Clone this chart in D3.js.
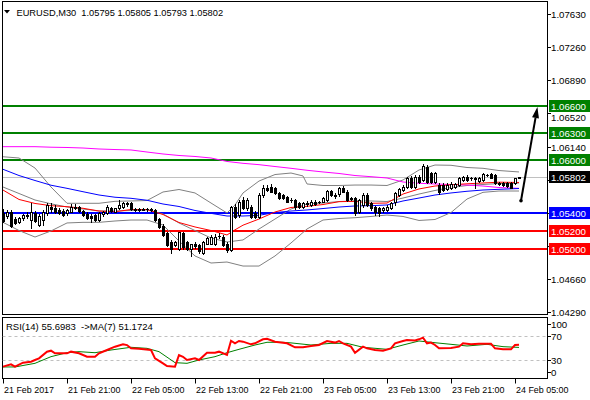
<!DOCTYPE html>
<html><head><meta charset="utf-8">
<script src="https://cdn.jsdelivr.net/npm/d3@7"></script>
<style>
body{margin:0;background:#fff;}
svg{display:block;}
text{font-family:"Liberation Sans",Arial,sans-serif;white-space:pre;}
</style>
</head><body>
<svg id="c" width="590" height="400"></svg>
<script>
// ---------------- DATA ----------------
const symbol = "EURUSD,M30";
const lastOHLC = [1.05795, 1.05805, 1.05793, 1.05802];
const lastPrice = 1.05802;

// candles: [open, high, low, close], one per 30-minute bar from 21 Feb 13:00
const candles = [
[1.05394,1.05443,1.05293,1.05308],[1.05368,1.05428,1.05345,1.05405],[1.05413,1.05428,1.05244,1.05255],[1.05330,1.05353,1.05278,1.05285],
[1.05293,1.05356,1.05281,1.05338],[1.05338,1.05390,1.05323,1.05375],[1.05368,1.05405,1.05338,1.05375],[1.05319,1.05506,1.05233,1.05405],
[1.05394,1.05420,1.05293,1.05308],[1.05263,1.05383,1.05255,1.05368],[1.05319,1.05431,1.05263,1.05413],[1.05394,1.05506,1.05375,1.05488],
[1.05469,1.05506,1.05405,1.05443],[1.05458,1.05488,1.05394,1.05405],[1.05431,1.05458,1.05383,1.05394],[1.05420,1.05443,1.05360,1.05375],
[1.05394,1.05443,1.05375,1.05428],[1.05413,1.05495,1.05405,1.05469],[1.05458,1.05495,1.05443,1.05469],[1.05465,1.05480,1.05413,1.05420],
[1.05420,1.05431,1.05368,1.05375],[1.05383,1.05405,1.05330,1.05338],[1.05360,1.05383,1.05293,1.05345],[1.05375,1.05390,1.05308,1.05319],
[1.05319,1.05405,1.05308,1.05394],[1.05390,1.05420,1.05368,1.05405],[1.05401,1.05488,1.05390,1.05469],[1.05450,1.05469,1.05405,1.05420],
[1.05413,1.05458,1.05405,1.05450],[1.05450,1.05544,1.05443,1.05488],[1.05469,1.05525,1.05458,1.05510],[1.05506,1.05525,1.05480,1.05503],
[1.05506,1.05525,1.05435,1.05443],[1.05443,1.05458,1.05420,1.05435],[1.05435,1.05458,1.05420,1.05443],[1.05443,1.05458,1.05428,1.05435],
[1.05439,1.05458,1.05420,1.05443],[1.05443,1.05458,1.05420,1.05428],[1.05431,1.05443,1.05308,1.05319],[1.05330,1.05345,1.05233,1.05244],
[1.05255,1.05270,1.05143,1.05150],[1.05169,1.05180,1.05030,1.05038],[1.05075,1.05090,1.04955,1.05000],[1.05038,1.05083,1.05023,1.05068],
[1.05000,1.05188,1.04981,1.05180],[1.05173,1.05188,1.05000,1.05019],[1.05068,1.05083,1.04981,1.05000],[1.05000,1.05056,1.04918,1.05045],
[1.05045,1.05068,1.05008,1.05030],[1.05038,1.05056,1.04944,1.04970],[1.04944,1.05083,1.04933,1.05068],[1.05056,1.05131,1.05045,1.05120],
[1.05056,1.05150,1.05045,1.05131],[1.05056,1.05158,1.05038,1.05131],[1.05143,1.05169,1.05120,1.05135],[1.05131,1.05150,1.05030,1.05038],
[1.05056,1.05075,1.04963,1.04981],[1.04981,1.05480,1.04970,1.05469],[1.05469,1.05495,1.05345,1.05356],[1.05375,1.05544,1.05356,1.05525],
[1.05544,1.05581,1.05443,1.05458],[1.05450,1.05570,1.05431,1.05544],[1.05469,1.05488,1.05345,1.05356],[1.05394,1.05420,1.05338,1.05356],
[1.05356,1.05619,1.05338,1.05600],[1.05600,1.05713,1.05581,1.05683],[1.05683,1.05713,1.05645,1.05656],[1.05694,1.05720,1.05630,1.05638],
[1.05675,1.05694,1.05608,1.05619],[1.05619,1.05638,1.05555,1.05563],[1.05600,1.05615,1.05555,1.05563],[1.05581,1.05593,1.05518,1.05525],
[1.05540,1.05563,1.05525,1.05544],[1.05544,1.05555,1.05443,1.05469],[1.05506,1.05525,1.05458,1.05469],[1.05469,1.05525,1.05458,1.05506],
[1.05506,1.05533,1.05480,1.05495],[1.05488,1.05544,1.05480,1.05525],[1.05525,1.05540,1.05488,1.05503],[1.05518,1.05533,1.05510,1.05525],
[1.05525,1.05581,1.05518,1.05570],[1.05544,1.05656,1.05533,1.05645],[1.05645,1.05656,1.05593,1.05600],[1.05600,1.05619,1.05570,1.05593],
[1.05608,1.05694,1.05593,1.05683],[1.05683,1.05705,1.05630,1.05638],[1.05638,1.05656,1.05533,1.05544],[1.05563,1.05581,1.05544,1.05560],
[1.05563,1.05581,1.05375,1.05394],[1.05413,1.05555,1.05394,1.05544],[1.05488,1.05619,1.05469,1.05600],[1.05600,1.05619,1.05480,1.05488],
[1.05506,1.05525,1.05431,1.05450],[1.05469,1.05480,1.05375,1.05413],[1.05450,1.05469,1.05368,1.05394],[1.05431,1.05469,1.05405,1.05450],
[1.05431,1.05488,1.05420,1.05469],[1.05458,1.05525,1.05443,1.05506],[1.05525,1.05630,1.05488,1.05619],[1.05600,1.05683,1.05585,1.05668],
[1.05656,1.05713,1.05645,1.05694],[1.05694,1.05806,1.05675,1.05788],[1.05788,1.05818,1.05683,1.05694],[1.05694,1.05825,1.05683,1.05806],
[1.05806,1.05825,1.05731,1.05750],[1.05769,1.05945,1.05758,1.05930],[1.05919,1.05938,1.05731,1.05750],[1.05844,1.05863,1.05731,1.05750],
[1.05750,1.05863,1.05731,1.05844],[1.05713,1.05731,1.05608,1.05630],[1.05713,1.05731,1.05645,1.05656],[1.05668,1.05731,1.05656,1.05713],
[1.05675,1.05750,1.05668,1.05720],[1.05694,1.05731,1.05683,1.05720],[1.05713,1.05806,1.05705,1.05795],[1.05769,1.05818,1.05758,1.05806],
[1.05806,1.05825,1.05758,1.05769],[1.05788,1.05806,1.05769,1.05795],[1.05788,1.05803,1.05675,1.05780],[1.05758,1.05806,1.05750,1.05795],
[1.05769,1.05844,1.05758,1.05833],[1.05825,1.05840,1.05810,1.05822],[1.05833,1.05844,1.05788,1.05795],[1.05825,1.05833,1.05720,1.05731],
[1.05731,1.05750,1.05713,1.05728],[1.05731,1.05743,1.05705,1.05713],[1.05731,1.05743,1.05694,1.05705],[1.05731,1.05743,1.05675,1.05683],
[1.05731,1.05795,1.05720,1.05788],[1.05795,1.05805,1.05793,1.05802]
];

// indicator lines sampled at bar indices: [barIndex, price]
const maSlow = [[0,1.06144],[4,1.06144],[8,1.06144],[12,1.06138],[16,1.06135],[20,1.06129],[24,1.06118],[28,1.06112],[32,1.06107],[36,1.06084],[40,1.06062],[44,1.06045],[48,1.06034],[52,1.06017],[56,1.05978],[60,1.05957],[64,1.05942],[68,1.05921],[72,1.05901],[76,1.05879],[80,1.05860],[84,1.05843],[88,1.05820],[92,1.05807],[96,1.05792],[100,1.05747],[104,1.05733],[108,1.05725],[112,1.05719],[116,1.05713],[120,1.05702],[124,1.05685],[129,1.05676]];
const maMid = [[0,1.05890],[4,1.05820],[8,1.05764],[12,1.05711],[16,1.05676],[20,1.05638],[24,1.05601],[28,1.05576],[32,1.05564],[36,1.05542],[40,1.05500],[44,1.05472],[48,1.05427],[52,1.05395],[56,1.05365],[60,1.05365],[64,1.05373],[68,1.05404],[72,1.05421],[76,1.05433],[80,1.05449],[84,1.05466],[88,1.05478],[92,1.05481],[96,1.05489],[100,1.05534],[104,1.05567],[108,1.05601],[112,1.05624],[116,1.05643],[120,1.05657],[124,1.05665],[129,1.05674]];
const maFast = [[0,1.05657],[4,1.05551],[8,1.05506],[12,1.05481],[16,1.05470],[20,1.05452],[24,1.05421],[28,1.05413],[32,1.05438],[36,1.05438],[40,1.05382],[44,1.05292],[48,1.05242],[52,1.05202],[56,1.05152],[58,1.05210],[60,1.05262],[64,1.05331],[68,1.05410],[72,1.05461],[76,1.05474],[80,1.05494],[84,1.05526],[88,1.05530],[92,1.05508],[96,1.05511],[100,1.05612],[104,1.05669],[108,1.05702],[112,1.05716],[116,1.05727],[120,1.05736],[124,1.05745],[129,1.05742]];
const bbUpper = [[0,1.06031],[4,1.06017],[8,1.05904],[12,1.05691],[16,1.05508],[20,1.05508],[24,1.05508],[28,1.05530],[32,1.05534],[36,1.05539],[40,1.05635],[44,1.05663],[48,1.05624],[52,1.05511],[56,1.05399],[58,1.05489],[60,1.05624],[64,1.05758],[68,1.05831],[72,1.05848],[75,1.05815],[76,1.05725],[80,1.05708],[84,1.05708],[88,1.05713],[92,1.05713],[96,1.05708],[100,1.05770],[104,1.05882],[108,1.05938],[112,1.05935],[116,1.05910],[120,1.05901],[124,1.05876],[129,1.05860]];
const bbMiddle = [[0,1.05691],[4,1.05618],[8,1.05545],[12,1.05502],[16,1.05466],[20,1.05444],[24,1.05421],[28,1.05421],[32,1.05427],[36,1.05433],[40,1.05388],[44,1.05287],[48,1.05202],[52,1.05118],[56,1.05073],[60,1.05096],[64,1.05219],[68,1.05331],[72,1.05444],[76,1.05500],[80,1.05511],[84,1.05528],[88,1.05534],[92,1.05534],[96,1.05528],[100,1.05567],[104,1.05612],[108,1.05652],[112,1.05685],[116,1.05708],[120,1.05719],[124,1.05730],[129,1.05736]];
const bbLower = [[0,1.05294],[4,1.05202],[8,1.05129],[12,1.05197],[16,1.05287],[20,1.05294],[24,1.05294],[28,1.05309],[32,1.05320],[36,1.05320],[40,1.05264],[44,1.05084],[48,1.04916],[52,1.04837],[56,1.04848],[60,1.04803],[64,1.04803],[68,1.04916],[72,1.05062],[76,1.05219],[80,1.05320],[84,1.05337],[88,1.05346],[92,1.05360],[96,1.05376],[100,1.05360],[104,1.05315],[108,1.05326],[112,1.05404],[116,1.05556],[120,1.05631],[124,1.05646],[129,1.05646]];

// horizontal levels
const resistanceLevels = [1.06600, 1.06300, 1.06000];
const pivotLevels = [1.05400];
const supportLevels = [1.05200, 1.05000];

// forecast arrow: [barIndex, price] start and end
const arrowStart = [129.5, 1.05537];
const arrowEnd = [133.6, 1.06590];

// price axis ticks
const priceTicks = [1.07630, 1.07260, 1.06890, 1.06520, 1.06140, 1.05770, 1.05400, 1.05030, 1.04660, 1.04290];

// RSI(14) and its MA(7): [barIndex, value]
const rsiValues = [[0,20],[2,23.8],[3,20],[5,26.5],[7,28],[8,30.8],[9,33.5],[11,44.3],[12,45.9],[13,41.6],[16,41.6],[17,44.3],[19,41.6],[21,36.2],[23,36.2],[24,41.6],[26,47],[28,52.4],[30,56.2],[31,55],[32,49.7],[34,49],[37,47],[38,33.5],[40,25.4],[41,21],[43,20],[44,38.9],[45,36],[46,30.8],[48,33.5],[49,30.8],[51,42.6],[53,42.6],[54,44.3],[56,38.9],[57,62],[58,57.8],[59,61.6],[60,60.5],[62,56.2],[63,57.8],[65,64.3],[66,65.3],[68,60.5],[71,57.8],[73,51.4],[75,51.4],[77,53.5],[79,55.1],[81,61.6],[83,59],[84,61.6],[85,57.8],[87,52.4],[88,42.6],[90,52.4],[91,49.7],[93,47],[95,45.9],[97,49.7],[98,57.8],[100,61.6],[101,63.2],[103,62.6],[104,64.3],[105,67],[106,57.8],[107,59],[108,55.1],[109,49.7],[112,50.3],[114,52.4],[115,57.8],[117,56.2],[119,57],[121,57],[122,57],[123,49.7],[125,48.1],[127,48.1],[128,55.1],[129,55.7]];
const rsiMA = [[0,19.5],[3,19.5],[8,25.4],[12,36.2],[16,42.6],[19,44.3],[23,42.6],[27,47],[32,51.4],[36,49.7],[39,44.3],[43,26.5],[46,25.4],[49,30.8],[53,36.2],[56,42.6],[59,48.1],[63,55.1],[66,59.5],[70,59.5],[72,58.5],[77,55.1],[82,57.8],[86,57.8],[90,51.4],[96,48.1],[100,55.1],[104,61.6],[108,58.8],[112,56.2],[116,53.5],[121,56.2],[125,52.4],[129,51.2]];
const rsiLabel = "RSI(14) 55.6983  ->MA(7) 51.1724";
const rsiTicks = [100, 70, 30, 0];
const rsiLevels = [70, 30];

// time axis
const timeTickIdx = [0, 16, 32, 48, 64, 80, 96, 112, 128];
const timeLabels = ["21 Feb 2017","21 Feb 21:00","22 Feb 05:00","22 Feb 13:00","22 Feb 21:00","23 Feb 05:00","23 Feb 13:00","23 Feb 21:00","24 Feb 05:00"];

// ---------------- DRAW ----------------
const svg = d3.select("#c");
const L = 2.5, R = 547.5;
const mainTop = 1.5, mainBot = 314.5;
const rsiTop = 317.5, rsiBot = 378.5;

// font size fitted so that a sample string has the width seen in the reference
function fitSize(sample, width) {
  const t = svg.append("text").attr("font-size", 10).text(sample);
  const w = t.node().getComputedTextLength();
  t.remove();
  return w > 0 ? 10 * width / w : 10;
}
const FS_AXIS = fitSize("1.07630", 35);
const FS_TIME = fitSize("22 Feb 05:00", 52.6);

const x = d3.scaleLinear().domain([0, 129]).range([3, 519]);
const y = d3.scaleLinear().domain([1.05, 1.06]).range([248.5, 159.5]);
const yr = d3.scaleLinear().domain([0, 100]).range([379, 317.3]);

const cx = i => Math.round(x(i)) + 0.5;
const ry = p => Math.round(y(p));

svg.insert("rect", ":first-child").attr("width",590).attr("height",400).attr("fill","#fff");

svg.append("clipPath").attr("id","mclip").append("rect")
  .attr("x",L).attr("y",mainTop).attr("width",R-L).attr("height",mainBot-mainTop);
svg.append("clipPath").attr("id","rclip").append("rect")
  .attr("x",L).attr("y",rsiTop).attr("width",R-L).attr("height",rsiBot-rsiTop);

const main = svg.append("g").attr("clip-path","url(#mclip)");

// last price line
main.append("line").attr("x1",L).attr("x2",R)
  .attr("y1",ry(lastPrice)+0.5).attr("y2",ry(lastPrice)+0.5)
  .attr("stroke","#c0c0c0").attr("stroke-width",1);

// level lines
const levelDefs = [];
resistanceLevels.forEach(v=>levelDefs.push({v, c:"#008000"}));
pivotLevels.forEach(v=>levelDefs.push({v, c:"#0000ff"}));
supportLevels.forEach(v=>levelDefs.push({v, c:"#ff0000"}));
levelDefs.forEach(d=>{
  main.append("line").attr("x1",L).attr("x2",R)
    .attr("y1",ry(d.v)).attr("y2",ry(d.v))
    .attr("stroke",d.c).attr("stroke-width",2);
});

// Bollinger bands & MAs
const line = d3.line().x(d=>x(d[0])).y(d=>y(d[1]));
[bbUpper, bbMiddle, bbLower].forEach(s=>{
  main.append("path").attr("d",line(s)).attr("fill","none").attr("stroke","#808080").attr("stroke-width",1);
});
main.append("path").attr("d",line(maSlow)).attr("fill","none").attr("stroke","#ff00ff").attr("stroke-width",1);
main.append("path").attr("d",line(maMid)).attr("fill","none").attr("stroke","#0000ff").attr("stroke-width",1);
main.append("path").attr("d",line(maFast)).attr("fill","none").attr("stroke","#ff0000").attr("stroke-width",1);

// candles
const cg = main.append("g").attr("shape-rendering","crispEdges");
candles.forEach((c,i)=>{
  const [o,h,l,cl] = c;
  const X = cx(i);
  cg.append("line").attr("x1",X).attr("x2",X).attr("y1",ry(h)).attr("y2",ry(l)+1).attr("stroke","#000");
  const top = Math.min(ry(o), ry(cl)), bot = Math.max(ry(o), ry(cl));
  if (bot - top < 1) {
    cg.append("line").attr("x1",X-1.5).attr("x2",X+1.5).attr("y1",top+0.5).attr("y2",top+0.5).attr("stroke","#000");
  } else if (cl >= o) {
    cg.append("rect").attr("x",X-1).attr("y",top+0.5).attr("width",2).attr("height",bot-top)
      .attr("fill","#fff").attr("stroke","#000").attr("stroke-width",1);
  } else {
    cg.append("rect").attr("x",X-1.5).attr("y",top).attr("width",3).attr("height",bot-top+1).attr("fill","#000");
  }
});

// arrow
const ax1 = x(arrowStart[0]), ay1 = y(arrowStart[1]);
const ax2 = x(arrowEnd[0]), ay2 = y(arrowEnd[1]);
const ang = Math.atan2(ay2-ay1, ax2-ax1);
const hl = 11, hw = 3.5;
const bx = ax2 - hl*Math.cos(ang), by = ay2 - hl*Math.sin(ang);
svg.append("line").attr("x1",ax1).attr("y1",ay1).attr("x2",bx).attr("y2",by)
  .attr("stroke","#000").attr("stroke-width",2);
svg.append("circle").attr("cx",ax1).attr("cy",ay1).attr("r",1.8).attr("fill","#000");
svg.append("path").attr("d",`M${ax2},${ay2}L${bx + hw*Math.sin(ang)},${by - hw*Math.cos(ang)}L${bx - hw*Math.sin(ang)},${by + hw*Math.cos(ang)}Z`)
  .attr("fill","#000");

// frames
svg.append("rect").attr("x",L).attr("y",mainTop).attr("width",R-L).attr("height",mainBot-mainTop)
  .attr("fill","none").attr("stroke","#000");
svg.append("rect").attr("x",L).attr("y",rsiTop).attr("width",R-L).attr("height",rsiBot-rsiTop)
  .attr("fill","none").attr("stroke","#000");

// level boxes
const fmt = d3.format(".5f");
const boxes = levelDefs.map(d=>({v:d.v, c:d.c})).concat([{v:lastPrice, c:"#000"}]);
const boxY = boxes.map(d=>ry(d.v));

// price axis ticks & labels (labels fully behind a level box are not drawn; one partly under a box is nudged below it)
priceTicks.forEach(p=>{
  const yy = ry(p)+0.5;
  svg.append("line").attr("x1",R).attr("x2",R+3.5).attr("y1",yy).attr("y2",yy).attr("stroke","#000");
  const near = boxY.map(b=>yy-b);
  const hidden = near.some(d=>Math.abs(d) < 5);
  if (hidden) return;
  let ty = yy;
  near.forEach(d=>{ if (d >= 5 && d < 11) ty = yy + (11 - d); });
  svg.append("text").attr("x",551).attr("y",ty+3.5).attr("font-size",FS_AXIS).attr("fill","#000").text(fmt(p));
});

boxes.forEach(d=>{
  const yy = ry(d.v);
  svg.append("rect").attr("x",549).attr("y",yy-6).attr("width",41).attr("height",12).attr("fill",d.c);
  svg.append("text").attr("x",551).attr("y",yy+3.5).attr("font-size",FS_AXIS).attr("fill","#fff").text(fmt(d.v));
});

// title
const titleText = symbol + "  " + lastOHLC.map(fmt).join(" ");
const FS_TITLE = fitSize(titleText, 207);
svg.append("path").attr("d","M4,10L10,10L7,13.5Z").attr("fill","#000");
svg.append("text").attr("x",16.5).attr("y",15.5).attr("font-size",FS_TITLE).attr("fill","#000").text(titleText);

// RSI panel
const rg = svg.append("g").attr("clip-path","url(#rclip)");
rsiLevels.forEach(v=>{
  rg.append("line").attr("x1",L).attr("x2",R).attr("y1",Math.round(yr(v))+0.5).attr("y2",Math.round(yr(v))+0.5)
    .attr("stroke","#c0c0c0").attr("stroke-dasharray","3,3");
});
const rline = d3.line().x(d=>x(d[0])).y(d=>yr(d[1]));
rg.append("path").attr("d",rline(rsiMA)).attr("fill","none").attr("stroke","#008000").attr("stroke-width",1);
rg.append("path").attr("d",rline(rsiValues)).attr("fill","none").attr("stroke","#ff0000").attr("stroke-width",2);
const FS_RSI = fitSize(rsiLabel, 147);
svg.append("text").attr("x",6).attr("y",329.5).attr("font-size",FS_RSI).attr("fill","#000").text(rsiLabel);

const rsiLabelY = {100:324, 70:336, 30:360.3, 0:372.3};
rsiTicks.forEach(v=>{
  const yy = Math.round(rsiLabelY[v])+0.5;
  svg.append("line").attr("x1",R).attr("x2",R+3.5).attr("y1",yy).attr("y2",yy).attr("stroke","#000");
  svg.append("text").attr("x",551).attr("y",yy+3.5).attr("font-size",FS_AXIS).attr("fill","#000").text(v);
});

// time axis
timeTickIdx.forEach((idx,k)=>{
  const X = Math.round(x(idx))+0.5;
  svg.append("line").attr("x1",X).attr("x2",X).attr("y1",rsiBot).attr("y2",rsiBot+5).attr("stroke","#000");
  svg.append("text").attr("x",X+0.5).attr("y",392.5).attr("font-size",FS_TIME).attr("fill","#000").text(timeLabels[k]);
});
</script>
</body></html>
